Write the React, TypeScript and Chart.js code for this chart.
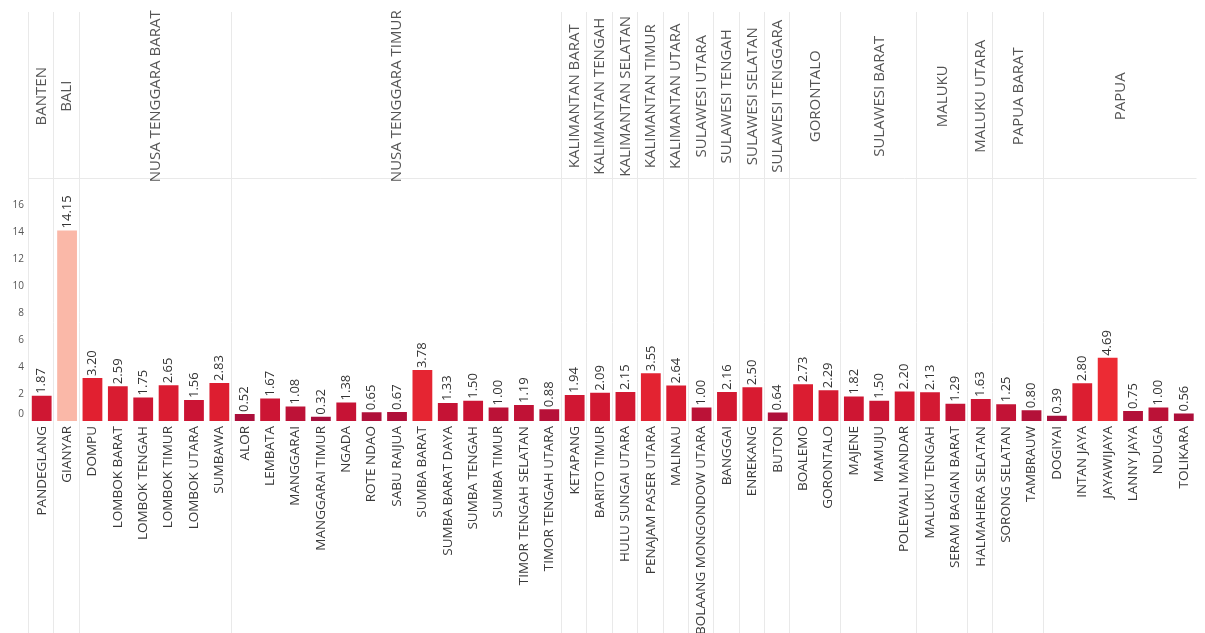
import { useEffect, useRef } from 'react';
import { Chart, registerables } from 'chart.js';

Chart.register(...registerables);

const districts = [
  'PANDEGLANG', 'GIANYAR',
  'DOMPU', 'LOMBOK BARAT', 'LOMBOK TENGAH', 'LOMBOK TIMUR', 'LOMBOK UTARA', 'SUMBAWA',
  'ALOR', 'LEMBATA', 'MANGGARAI', 'MANGGARAI TIMUR', 'NGADA', 'ROTE NDAO', 'SABU RAIJUA',
  'SUMBA BARAT', 'SUMBA BARAT DAYA', 'SUMBA TENGAH', 'SUMBA TIMUR', 'TIMOR TENGAH SELATAN', 'TIMOR TENGAH UTARA',
  'KETAPANG', 'BARITO TIMUR', 'HULU SUNGAI UTARA', 'PENAJAM PASER UTARA', 'MALINAU',
  'BOLAANG MONGONDOW UTARA', 'BANGGAI', 'ENREKANG', 'BUTON',
  'BOALEMO', 'GORONTALO', 'MAJENE', 'MAMUJU', 'POLEWALI MANDAR',
  'MALUKU TENGAH', 'SERAM BAGIAN BARAT', 'HALMAHERA SELATAN',
  'SORONG SELATAN', 'TAMBRAUW',
  'DOGIYAI', 'INTAN JAYA', 'JAYAWIJAYA', 'LANNY JAYA', 'NDUGA', 'TOLIKARA',
];

const rates = [
  1.87, 14.15,
  3.20, 2.59, 1.75, 2.65, 1.56, 2.83,
  0.52, 1.67, 1.08, 0.32, 1.38, 0.65, 0.67,
  3.78, 1.33, 1.50, 1.00, 1.19, 0.88,
  1.94, 2.09, 2.15, 3.55, 2.64,
  1.00, 2.16, 2.50, 0.64,
  2.73, 2.29, 1.82, 1.50, 2.20,
  2.13, 1.29, 1.63,
  1.25, 0.80,
  0.39, 2.80, 4.69, 0.75, 1.00, 0.56,
];

const provinceNames = [
  'BANTEN', 'BALI', 'NUSA TENGGARA BARAT', 'NUSA TENGGARA TIMUR',
  'KALIMANTAN BARAT', 'KALIMANTAN TENGAH', 'KALIMANTAN SELATAN', 'KALIMANTAN TIMUR', 'KALIMANTAN UTARA',
  'SULAWESI UTARA', 'SULAWESI TENGAH', 'SULAWESI SELATAN', 'SULAWESI TENGGARA',
  'GORONTALO', 'SULAWESI BARAT', 'MALUKU', 'MALUKU UTARA', 'PAPUA BARAT', 'PAPUA',
];

const provinceSizes = [1, 1, 6, 13, 1, 1, 1, 1, 1, 1, 1, 1, 1, 2, 3, 2, 1, 2, 6];

const yTicks = [0, 2, 4, 6, 8, 10, 12, 14, 16];

const colorStops: [number, number[]][] = [
  [0.3, [165, 14, 60]],
  [1.5, [202, 20, 52]],
  [3.0, [223, 31, 48]],
  [4.7, [236, 43, 52]],
  [14.15, [250, 184, 168]],
];

function colorFor(v: number): string {
  if (v <= colorStops[0][0]) return `rgb(${colorStops[0][1].join(',')})`;
  for (let i = 1; i < colorStops.length; i++) {
    const [v1, c1] = colorStops[i];
    const [v0, c0] = colorStops[i - 1];
    if (v <= v1) {
      const t = (v - v0) / (v1 - v0);
      const c = c0.map((a, k) => Math.round(a + (c1[k] - a) * t));
      return `rgb(${c.join(',')})`;
    }
  }
  return `rgb(${colorStops[colorStops.length - 1][1].join(',')})`;
}

const FONT = "'Open Sans', 'DejaVu Sans', sans-serif";
const HEADER_TOP = 12;
const HEADER_BOTTOM = 178.5;

const headerPlugin = {
  id: 'headerPlugin',
  beforeDatasetsDraw(chart: any) {
    const { ctx, chartArea } = chart;
    const xs = chart.scales.x;
    const ys = chart.scales.y;
    const n = districts.length;
    const boundary = (k: number) => {
      if (k <= 0) return chartArea.left;
      if (k >= n) return chartArea.right;
      return (xs.getPixelForTick(k - 1) + xs.getPixelForTick(k)) / 2;
    };
    ctx.save();
    ctx.strokeStyle = '#e9e9e9';
    ctx.lineWidth = 1;
    let k = 0;
    const bounds = [0];
    provinceSizes.forEach((s) => { k += s; bounds.push(k); });
    bounds.forEach((b) => {
      if (b >= n) return;
      const x = Math.round(boundary(b)) - 0.5;
      ctx.beginPath();
      ctx.moveTo(x, HEADER_TOP);
      ctx.lineTo(x, chart.height);
      ctx.stroke();
    });
    ctx.beginPath();
    ctx.moveTo(chartArea.left, HEADER_BOTTOM);
    ctx.lineTo(chartArea.right, HEADER_BOTTOM);
    ctx.stroke();

    // y tick labels (Tableau keeps the bottom label inside the pane)
    ctx.fillStyle = '#555';
    ctx.font = `10px ${FONT}`;
    ctx.textAlign = 'right';
    ctx.textBaseline = 'middle';
    yTicks.forEach((v) => {
      let y = ys.getPixelForValue(v);
      if (y > chartArea.bottom - 7) y = chartArea.bottom - 7;
      ctx.fillText(String(v), chartArea.left - 5, y);
    });

    // province headers
    ctx.fillStyle = '#555';
    ctx.font = `15px ${FONT}`;
    ctx.textAlign = 'center';
    ctx.textBaseline = 'middle';
    let start = 0;
    provinceNames.forEach((name, i) => {
      const end = start + provinceSizes[i];
      const cx = (boundary(start) + boundary(end)) / 2;
      ctx.save();
      ctx.translate(cx, (HEADER_TOP + HEADER_BOTTOM) / 2 + 1);
      ctx.rotate(-Math.PI / 2);
      ctx.fillText(name, 0, 0);
      ctx.restore();
      start = end;
    });
    ctx.restore();
  },
  afterDatasetsDraw(chart: any) {
    const { ctx } = chart;
    const meta = chart.getDatasetMeta(0);
    ctx.save();
    ctx.fillStyle = '#333';
    ctx.font = `13px ${FONT}`;
    ctx.textAlign = 'left';
    ctx.textBaseline = 'middle';
    meta.data.forEach((bar: any, i: number) => {
      ctx.save();
      ctx.translate(bar.x, bar.y - 2);
      ctx.rotate(-Math.PI / 2);
      ctx.fillText(rates[i].toFixed(2), 0, 0);
      ctx.restore();
    });
    ctx.restore();
  },
};

export default function App() {
  const ref = useRef<HTMLCanvasElement>(null);
  useEffect(() => {
    const chart = new Chart(ref.current!, {
      type: 'bar',
      data: {
        labels: districts,
        datasets: [
          {
            data: rates,
            backgroundColor: rates.map((v) => colorFor(v)),
            borderWidth: 0,
            categoryPercentage: 1,
            barPercentage: 0.78,
          },
        ],
      },
      options: {
        animation: false,
        responsive: false,
        devicePixelRatio: 1,
        layout: { padding: { top: 180, left: 0, right: 0, bottom: 0 } },
        plugins: { legend: { display: false }, tooltip: { enabled: false } },
        scales: {
          x: {
            grid: { display: false, drawTicks: false },
            border: { display: false },
            ticks: {
              autoSkip: false,
              minRotation: 90,
              maxRotation: 90,
              padding: 5,
              color: '#3a3a3a',
              font: { family: FONT, size: 13.5 },
            },
            afterFit: (s: any) => { s.height = 212; },
          },
          y: {
            min: 0,
            max: 17.9,
            grid: { display: false, drawTicks: false },
            border: { display: false },
            ticks: { display: false },
            afterBuildTicks: (s: any) => { s.ticks = yTicks.map((v) => ({ value: v })); },
            afterFit: (s: any) => { s.width = 29; },
          },
        },
      },
      plugins: [headerPlugin],
    });
    return () => chart.destroy();
  }, []);
  return (
    <div style={{ position: 'fixed', left: 0, top: 0, width: 1205, height: 633, background: '#fff' }}>
      <canvas ref={ref} width={1205} height={633} style={{ display: 'block', width: 1205, height: 633 }} />
    </div>
  );
}
